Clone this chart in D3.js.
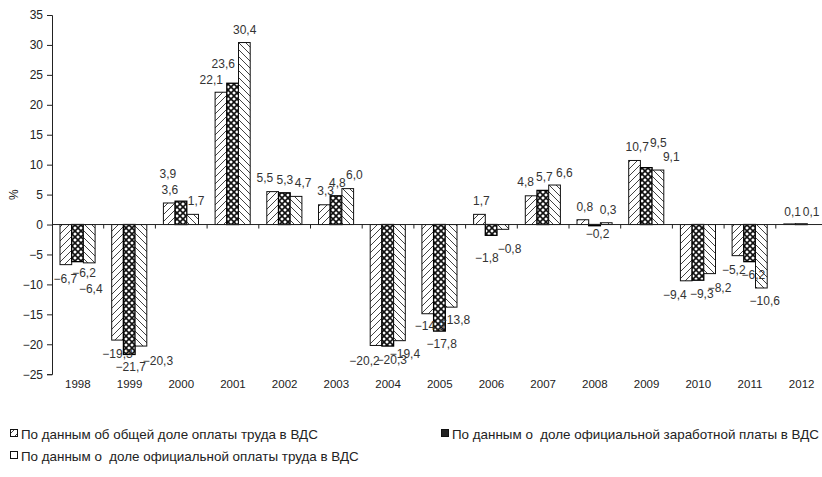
<!DOCTYPE html>
<html>
<head>
<meta charset="utf-8">
<script src="https://cdn.jsdelivr.net/npm/d3@7"></script>
<style>
  html, body { margin: 0; padding: 0; background: #fff; }
  svg { display: block; font-family: "Liberation Sans", Arial, sans-serif; }
  .leg { white-space: pre; }
</style>
</head>
<body>
<svg id="chart" width="822" height="477"></svg>
<script>
// ---- data ----
const years = ["1998","1999","2000","2001","2002","2003","2004","2005","2006","2007","2008","2009","2010","2011","2012"];
const seriesNames = [
  "По данным об общей доле оплаты труда в ВДС",
  "По данным о  доле официальной заработной платы в ВДС",
  "По данным о  доле официальной оплаты труда в ВДС"
];
const totalShare   = [-6.7, -19.3, 3.6, 22.1, 5.5, 3.3, -20.2, -14.9, 1.7, 4.8, 0.8, 10.7, -9.4, -5.2, 0.1];
const officialWage = [-6.2, -21.7, 3.9, 23.6, 5.3, 4.8, -20.3, -17.8, -1.8, 5.7, -0.2, 9.5, -9.3, -6.2, 0.1];
const officialPay  = [-6.4, -20.3, 1.7, 30.4, 4.7, 6.0, -19.4, -13.8, -0.8, 6.6, 0.3, 9.1, -8.2, -10.6, null];
const yTicks = [-25, -20, -15, -10, -5, 0, 5, 10, 15, 20, 25, 30, 35];

// label nudges [dx, dy] relative to bar end (placement only)
const nudge1 = [[-0.5,14.5],[0,13.8],[0.7,-12.9],[-9.7,-12.9],[-7.7,-13.8],[1.3,-14],[-11.5,15.7],[2.3,12.5],[2,-13.2],[-5.5,-14],[1.9,-12.9],[2.6,-13.7],[-11.3,14.4],[-4.2,13.8],[2.9,-12.1]];
const nudge2 = [[6.5,11.2],[1.5,12.5],[-13,-27.8],[-9.4,-19.5],[0.6,-12.7],[1.3,-13],[4,13.4],[2.2,13.1],[-4.2,22.5],[1.5,-13.6],[3,7.7],[12,-25.3],[3.8,13.3],[3.7,13.5],[9.7,-12.1]];
const nudge3 = [[1.5,26],[17,14.4],[3.4,-13.5],[0.3,-13.2],[7,-13.6],[6.6,-13.5],[5.5,13.5],[3.9,12.3],[6.7,19.8],[9.8,-12.6],[1.8,-12.6],[13.3,-13.3],[9.9,13.8],[3.4,12.9],[0,-12]];

const series = [
  {name: seriesNames[0], values: totalShare, nudge: nudge1, fill: "url(#pFwd)", stroke: "#111", sw: 1},
  {name: seriesNames[1], values: officialWage, nudge: nudge2, fill: "url(#pCross)", stroke: "#000", sw: 1.3},
  {name: seriesNames[2], values: officialPay, nudge: nudge3, fill: "url(#pBack)", stroke: "#111", sw: 1}
];

// ---- chart ----
const svg = d3.select("#chart");
const fmt = v => (v < 0 ? "\u2212" : "") + Math.abs(v).toFixed(1).replace(".", ",");
const FONT = "'Liberation Sans', Arial, sans-serif";

const defs = svg.append("defs");
function hatch(id, d, size, sw, bg) {
  const p = defs.append("pattern").attr("id", id).attr("patternUnits", "userSpaceOnUse")
    .attr("width", size).attr("height", size);
  p.append("rect").attr("width", size).attr("height", size).attr("fill", bg || "#fff");
  d.forEach(path => p.append("path").attr("d", path).attr("stroke", "#111").attr("stroke-width", sw).attr("fill", "none"));
}
hatch("pFwd", ["M0,7 L7,0", "M-1,1 L1,-1", "M6,8 L8,6"], 7, 0.8);
hatch("pBack", ["M0,0 L7,7", "M-1,6 L1,8", "M6,-1 L8,1"], 7, 0.8);
hatch("pCross", ["M0,6 L6,0", "M-1,1 L1,-1", "M5,7 L7,5", "M0,0 L6,6", "M-1,5 L1,7", "M5,-1 L7,1"], 6, 1.6);

const x = d3.scaleBand().domain(years).range([52, 827.5]).paddingInner(0).paddingOuter(0);
const x1 = d3.scaleBand().domain([0, 1, 2]).range([8, 43.1]).padding(0);
const y = d3.scaleLinear().domain([-25, 35]).range([374.2, 15]);

// y axis
const yAxis = svg.append("g").attr("transform", "translate(52,0)")
  .call(d3.axisLeft(y).tickValues(yTicks).tickSize(5).tickPadding(4)
    .tickFormat(d => d < 0 ? "\u2212" + Math.abs(d) : d));
yAxis.select(".domain").attr("stroke", "#222");
yAxis.selectAll(".tick line").attr("stroke", "#222");
yAxis.selectAll("text").attr("font-size", 12).attr("fill", "#222").attr("font-family", FONT);

// y title
svg.append("text").attr("transform", `translate(18,${y(5)}) rotate(-90)`)
  .attr("text-anchor", "middle").attr("font-size", 12).attr("fill", "#222").text("%");

// bars
series.forEach((s, si) => {
  const g = svg.append("g");
  g.selectAll("rect").data(s.values.map((v, i) => ({v, i})).filter(d => d.v !== null))
    .enter().append("rect")
    .attr("x", d => x(years[d.i]) + x1(si))
    .attr("width", x1.bandwidth())
    .attr("y", d => Math.min(y(d.v), y(0)))
    .attr("height", d => Math.max(Math.abs(y(d.v) - y(0)), 0.6))
    .attr("fill", s.fill).attr("stroke", s.stroke).attr("stroke-width", s.sw);
});

// zero line and category ticks
svg.append("line").attr("x1", 52).attr("x2", 822).attr("y1", y(0)).attr("y2", y(0))
  .attr("stroke", "#222").attr("stroke-width", 1);
svg.append("g").selectAll("line").data(years.slice(1)).enter().append("line")
  .attr("x1", d => x(d)).attr("x2", d => x(d))
  .attr("y1", y(0)).attr("y2", y(0) + 4).attr("stroke", "#222");

// x labels
const xAxis = svg.append("g").attr("transform", "translate(0,377)")
  .call(d3.axisBottom(x).tickSize(0).tickPadding(3));
xAxis.select(".domain").remove();
xAxis.selectAll("text").attr("font-size", 11.5).attr("fill", "#222").attr("font-family", FONT);

// data labels
series.forEach((s, si) => {
  svg.append("g").selectAll("text")
    .data(s.values.map((v, i) => ({v, i})).filter(d => d.v !== null))
    .enter().append("text")
    .attr("x", d => x(years[d.i]) + x1(si) + x1.bandwidth() / 2 + s.nudge[d.i][0])
    .attr("y", d => y(d.v) + s.nudge[d.i][1])
    .attr("dy", "0.35em")
    .attr("text-anchor", "middle").attr("font-size", 12).attr("fill", "#333")
    .text(d => fmt(d.v));
});

// legend
const legendPos = [[10, 434], [441, 434], [10, 456]];
series.forEach((s, si) => {
  const [lx, ly] = legendPos[si];
  const g = svg.append("g").attr("transform", `translate(${lx},${ly})`);
  g.append("rect").attr("x", 0.5).attr("y", -4.5).attr("width", 7).attr("height", 7)
    .attr("fill", si === 1 ? "#222" : (si === 0 ? "url(#pFwd)" : "#fff"))
    .attr("stroke", "#111").attr("stroke-width", 1);
  g.append("text").attr("class", "leg").attr("x", 11).attr("y", 0).attr("dy", "0.35em")
    .attr("font-size", 13.4).attr("fill", "#222").text(s.name);
});
</script>
</body>
</html>
